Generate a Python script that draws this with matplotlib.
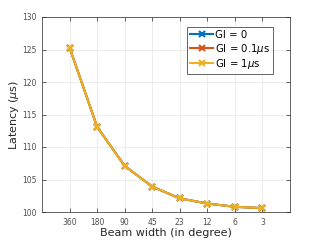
import numpy as np
import matplotlib
matplotlib.use("Agg")
import matplotlib.pyplot as plt

# beam widths (in degree) and latency values
beam_labels = ["360", "180", "90", "45", "23", "12", "6", "3"]
lat_gi0 = [125.3, 113.1, 107.1, 103.9, 102.1, 101.3, 100.8, 100.6]
lat_gi01 = [125.3, 113.1, 107.1, 103.9, 102.1, 101.3, 100.8, 100.6]
lat_gi1 = [125.3, 113.1, 107.1, 103.9, 102.1, 101.3, 100.8, 100.6]
series_names = ["GI = 0", r"GI = 0.1$\mu$s", r"GI = 1$\mu$s"]
series_colors = ["#0072BD", "#D95319", "#EDB120"]

fig = plt.figure(figsize=(3.21, 2.41), dpi=100)
ax = fig.add_axes([42 / 321, 1 - 212 / 241, 248 / 321, 195 / 241])

x = np.arange(1, len(beam_labels) + 1)
for vals, name, col in zip([lat_gi0, lat_gi01, lat_gi1], series_names, series_colors):
    ax.plot(x, vals, color=col, marker="x", markersize=5, markeredgewidth=1.5,
            linewidth=1.5, label=name)

ax.set_xlim(0, 9)
ax.set_ylim(100, 130)
ax.set_xticks(x)
ax.set_xticklabels(beam_labels)
ax.set_yticks(np.arange(100, 131, 5))
ax.tick_params(direction="in", labelsize=5.5, length=3, width=0.5,
               top=True, right=True, color="#262626", labelcolor="#4d4d4d", pad=4)
ax.grid(True, color="#e6e6e6", linewidth=0.5)
for s in ax.spines.values():
    s.set_linewidth(0.5)
    s.set_color("#262626")

ax.set_xlabel("Beam width (in degree)", fontsize=8, color="#262626", labelpad=1)
ax.set_ylabel(r"Latency ($\mu$s)", fontsize=8, color="#262626", labelpad=1)

leg = ax.legend(loc="upper right", bbox_to_anchor=(0.931, 0.949), fontsize=7.3,
                fancybox=False, framealpha=1, edgecolor="#262626",
                handlelength=2.2, handletextpad=0.2, borderpad=0.3,
                labelspacing=0.15, borderaxespad=0)
leg.get_frame().set_linewidth(0.5)

fig.savefig("out.png", dpi=100)
